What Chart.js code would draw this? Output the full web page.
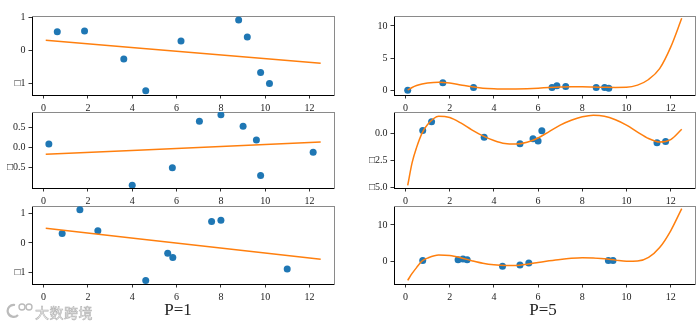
<!DOCTYPE html>
<html>
<head>
<meta charset="utf-8">
<script src="https://cdn.jsdelivr.net/npm/chart.js@4.4.0/dist/chart.umd.min.js"></script>
<style>
body { margin: 0; background: #fff; width: 700px; height: 322px; position: relative; overflow: hidden; }
canvas { position: absolute; }
.cap { position: absolute; font-family: "Liberation Serif", serif; font-size: 17px; color: #222; transform: translate(-50%, -50%); white-space: nowrap; }
.wm { position: absolute; left: 35px; top: 302px; font-family: "Noto Sans CJK SC", sans-serif; font-size: 14px; color: #f4f4f4; -webkit-text-stroke: 0.6px #b4b4b4; letter-spacing: 0.5px; }
.logo { position: absolute; left: 6px; top: 302px; }
</style>
</head>
<body>
<canvas id="l1"></canvas>
<canvas id="l2"></canvas>
<canvas id="l3"></canvas>
<canvas id="r1"></canvas>
<canvas id="r2"></canvas>
<canvas id="r3"></canvas>
<div class="cap" style="left:178px;top:310px">P=1</div>
<div class="cap" style="left:543px;top:310px">P=5</div>
<svg class="logo" width="28" height="16" viewBox="0 0 28 16">
  <path d="M9 3 A6 6 0 1 0 12 13" fill="none" stroke="#bbb" stroke-width="2.2"/>
  <circle cx="16" cy="5" r="3" fill="none" stroke="#bbb" stroke-width="1.4"/>
  <circle cx="23" cy="5" r="3" fill="none" stroke="#bbb" stroke-width="1.4"/>
</svg>
<div class="wm">大数跨境</div>
<script>
const xTicks = [0, 2, 4, 6, 8, 10, 12];
const xTickLabels = ["0", "2", "4", "6", "8", "10", "12"];

// P=1 samples and straight fits
const l1X = [0.62, 1.85, 3.62, 4.61, 6.2, 8.8, 9.19, 9.79, 10.19];
const l1Y = [0.57, 0.59, -0.26, -1.23, 0.29, 0.93, 0.41, -0.67, -1.01];
const l2X = [0.24, 4.0, 5.81, 7.03, 8.0, 9.0, 9.6, 9.79, 12.16];
const l2Y = [0.08, -0.93, -0.5, 0.64, 0.8, 0.52, 0.18, -0.69, -0.12];
const l3X = [0.84, 1.64, 2.45, 4.61, 5.6, 5.83, 7.58, 8.0, 10.99];
const l3Y = [0.32, 1.13, 0.42, -1.28, -0.35, -0.5, 0.73, 0.77, -0.89];

const fitX = [0.1, 12.5];
const l1Fit = [0.31, -0.39];
const l2Fit = [-0.17, 0.13];
const l3Fit = [0.5, -0.56];

// P=5 samples and fitted curves
const r1X = [0.1, 1.69, 3.08, 6.63, 6.85, 7.25, 8.63, 9.01, 9.2];
const r1Y = [-0.02, 1.13, 0.41, 0.41, 0.67, 0.57, 0.41, 0.41, 0.3];
const r2X = [0.78, 1.18, 3.56, 5.18, 5.77, 6.0, 6.17, 11.38, 11.77];
const r2Y = [0.3, 1.11, -0.33, -0.93, -0.48, -0.69, 0.27, -0.84, -0.72];
const r3X = [0.78, 2.38, 2.6, 2.79, 4.39, 5.18, 5.58, 9.18, 9.39];
const r3Y = [0.27, 0.45, 0.63, 0.45, -1.35, -0.99, -0.45, 0.27, 0.27];

const curveX = [0.1, 0.3, 0.5, 0.75, 1, 1.5, 2, 2.5, 3, 3.5, 4, 4.5, 5, 5.5, 6, 6.5,
                7, 7.5, 8, 8.5, 9, 9.5, 10, 10.5, 11, 11.5, 12, 12.5];
const r1Curve = [0.0, 0.4, 0.7, 0.95, 1.1, 1.22, 1.1, 0.8, 0.5, 0.3, 0.2, 0.15, 0.17, 0.22,
                 0.3, 0.4, 0.48, 0.52, 0.52, 0.48, 0.43, 0.4, 0.42, 0.77, 1.65, 3.35, 6.7, 11.2];
const r2Curve = [-4.82, -2.7, -1.3, 0.05, 0.85, 1.62, 1.5, 1.0, 0.36, -0.2, -0.63, -0.92, -0.97, -0.8,
                 -0.4, 0.2, 0.8, 1.25, 1.57, 1.72, 1.63, 1.3, 0.8, 0.15, -0.45, -0.78, -0.55, 0.42];
const r3Curve = [-5.2, -3.3, -1.7, 0.1, 0.9, 1.75, 1.6, 1.0, 0.2, -0.5, -0.95, -1.15, -1.1, -0.75,
                 -0.3, 0.15, 0.55, 0.85, 1.0, 0.95, 0.7, 0.35, 0.05, 0.1, 1.1, 3.8, 8.4, 14.5];

// y axes
const l1Ticks = [-1, 0, 1], l1Labels = ["\u25A11", "0", "1"];
const l2Ticks = [-0.5, 0, 0.5], l2Labels = ["\u25A10.5", "0.0", "0.5"];
const l3Ticks = [-1, 0, 1], l3Labels = ["\u25A11", "0", "1"];
const r1Ticks = [0, 5, 10], r1Labels = ["0", "5", "10"];
const r2Ticks = [-5, -2.5, 0], r2Labels = ["\u25A15.0", "\u25A12.5", "0.0"];
const r3Ticks = [0, 10], r3Labels = ["0", "10"];

const rows = [{ top: 15, bottom: 95 }, { top: 111, bottom: 188 }, { top: 205, bottom: 284 }];
const cols = [{ left: 0, width: 345, plotLeft: 32, plotRight: 334 },
              { left: 350, width: 350, plotLeft: 44, plotRight: 345 }];
const padTop = 8, axisH = 22;
const tickFont = { family: "'Liberation Serif', serif", size: 10 };

function pairs(xs, ys) {
    return xs.map((x, i) => ({ x: x, y: ys[i] }));
}

function panel(id, row, col, xs, ys, lineX, lineY, yMin, yMax, yTicks, yLabels) {
    const r = rows[row], c = cols[col];
    const cv = document.getElementById(id);
    const h = r.bottom - r.top + padTop + axisH;
    cv.width = c.width;
    cv.height = h;
    cv.style.left = c.left + "px";
    cv.style.top = (r.top - padTop) + "px";

    const tickGrid = { display: true, drawOnChartArea: false, drawTicks: true, tickLength: 3.5, color: "#000", lineWidth: 0.8 };

    new Chart(cv, {
        type: "scatter",
        data: {
            datasets: [
                {
                    type: "line",
                    data: pairs(lineX, lineY),
                    borderColor: "#ff7f0e",
                    borderWidth: 1.5,
                    pointRadius: 0,
                    cubicInterpolationMode: "monotone",
                    fill: false,
                    xAxisID: "x",
                    yAxisID: "y",
                    order: 0,
                },
                {
                    data: pairs(xs, ys),
                    backgroundColor: "#1f77b4",
                    borderWidth: 0,
                    pointRadius: 3.5,
                    xAxisID: "x",
                    yAxisID: "y",
                    order: 1,
                },
            ],
        },
        options: {
            responsive: false,
            animation: false,
            events: [],
            layout: { padding: { top: padTop, right: c.width - c.plotRight, left: 0, bottom: 0 } },
            plugins: { legend: { display: false }, tooltip: { enabled: false } },
            scales: {
                x: {
                    type: "linear",
                    position: "bottom",
                    min: -0.52,
                    max: 13.1,
                    afterBuildTicks: (s) => { s.ticks = xTicks.map((v) => ({ value: v })); },
                    afterFit: (s) => { s.height = axisH; },
                    ticks: {
                        callback: (v) => xTickLabels[xTicks.indexOf(v)],
                        font: tickFont,
                        color: "#222",
                        padding: 4,
                        maxRotation: 0,
                        autoSkip: false,
                    },
                    grid: tickGrid,
                    border: { color: "#000", width: 1 },
                },
                y: {
                    type: "linear",
                    position: "left",
                    min: yMin,
                    max: yMax,
                    afterBuildTicks: (s) => { s.ticks = yTicks.map((v) => ({ value: v })); },
                    afterFit: (s) => { s.width = c.plotLeft; },
                    ticks: {
                        callback: (v) => yLabels[yTicks.indexOf(v)],
                        font: tickFont,
                        color: "#222",
                        padding: 3,
                        autoSkip: false,
                    },
                    grid: tickGrid,
                    border: { color: "#000", width: 1 },
                },
                xTop: {
                    type: "linear",
                    position: "top",
                    min: -0.52,
                    max: 13.1,
                    ticks: { display: false },
                    grid: { display: false, drawTicks: false },
                    border: { color: "#8a8a8a", width: 1 },
                    afterFit: (s) => { s.height = 0; },
                },
                yRight: {
                    type: "linear",
                    position: "right",
                    min: yMin,
                    max: yMax,
                    ticks: { display: false },
                    grid: { display: false, drawTicks: false },
                    border: { color: "#8a8a8a", width: 1 },
                    afterFit: (s) => { s.width = 0; },
                },
            },
        },
    });
}

panel("l1", 0, 0, l1X, l1Y, fitX, l1Fit, -1.36, 1.05, l1Ticks, l1Labels);
panel("l2", 1, 0, l2X, l2Y, fitX, l2Fit, -1.0, 0.87, l2Ticks, l2Labels);
panel("l3", 2, 0, l3X, l3Y, fitX, l3Fit, -1.4, 1.26, l3Ticks, l3Labels);
panel("r1", 0, 1, r1X, r1Y, curveX, r1Curve, -0.77, 11.55, r1Ticks, r1Labels);
panel("r2", 1, 1, r2X, r2Y, curveX, r2Curve, -5.06, 2.02, r2Ticks, r2Labels);
panel("r3", 2, 1, r3X, r3Y, curveX, r3Curve, -6.2, 15.2, r3Ticks, r3Labels);
</script>
</body>
</html>
